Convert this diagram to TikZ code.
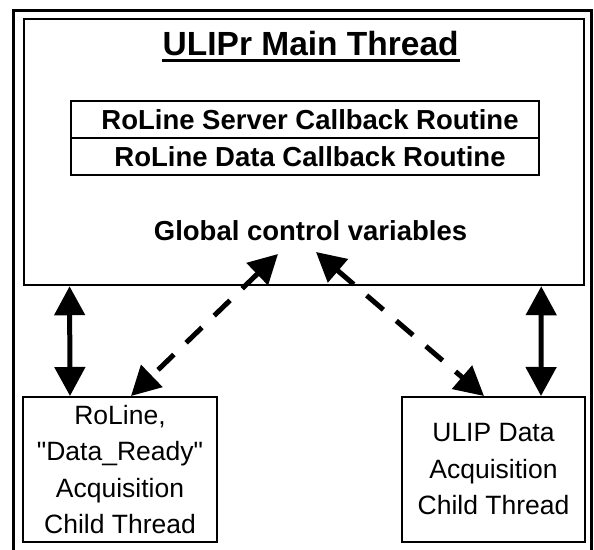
\documentclass[tikz,border=0pt]{standalone}
\usepackage{fontspec}
\setmainfont{Liberation Sans}[Ligatures=TeXOff]
\usetikzlibrary{arrows.meta}
\tikzset{
  box/.style={draw, line width=2pt, inner sep=0pt, align=center, font=\fontsize{26.5}{36.5}\selectfont},
  routine/.style={draw, line width=1.2pt, minimum width=468pt, minimum height=37pt, inner sep=0pt, font=\bfseries\fontsize{27.5}{33}\selectfont},
  dbl/.style={line width=5pt, {Triangle[width=30pt,length=29pt]}-{Triangle[width=30pt,length=29pt]}},
  dbldash/.style={dbl, dash pattern=on 22pt off 17pt}
}
\begin{document}
\begin{tikzpicture}[x=1pt,y=-1pt]
\useasboundingbox (0,0) rectangle (594,549);
\fill[white] (0,0) rectangle (594,549);
\clip (0,0) rectangle (594,549);
% outer frame
\draw[line width=3pt] (13.5,10.5) rectangle (591,575);
% main box
\node[draw, line width=2.5pt, minimum width=560.2pt, minimum height=266pt, inner sep=0pt] (main) at (303.9,152) {};
\node[anchor=base, inner sep=0pt, font=\bfseries\fontsize{33.5}{40}\selectfont] (title) at (310.7,55) {ULIPr Main Thread};
\draw[line width=3.5pt] ([xshift=-1pt,yshift=-5.5pt]title.base west) -- ([xshift=1pt,yshift=-5.5pt]title.base east);
\node[routine] (r1) at (305,119.5) {\hspace{10pt}RoLine Server Callback Routine};
\node[routine] (r2) at (305,156.5) {\hspace{10pt}RoLine Data Callback Routine};
\node[anchor=base, inner sep=0pt, font=\bfseries\fontsize{27.5}{33}\selectfont] (glob) at (310.5,240) {Global control variables};
\coordinate (gl) at (278,254);
\coordinate (gr) at (316,252);
% child boxes
\node[box, minimum width=194pt, minimum height=145pt] (lc) at (120,469.5) {RoLine,\\"Data\_Ready"\\Acquisition\\Child Thread};
\node[box, minimum width=183pt, minimum height=145pt] (rc) at (493.5,469.5) {ULIP Data\\Acquisition\\Child Thread};
% arrows
\draw[dbl] ([xshift=47pt]main.south west) -- ([xshift=48pt]lc.north west);
\draw[dbl] ([xshift=-44pt]main.south east) -- ([xshift=-45pt]rc.north east);
\draw[dbldash] (gl) -- ([xshift=109pt]lc.north west);
\draw[dbldash] (gr) -- ([xshift=83pt]rc.north west);
\end{tikzpicture}
\end{document}
